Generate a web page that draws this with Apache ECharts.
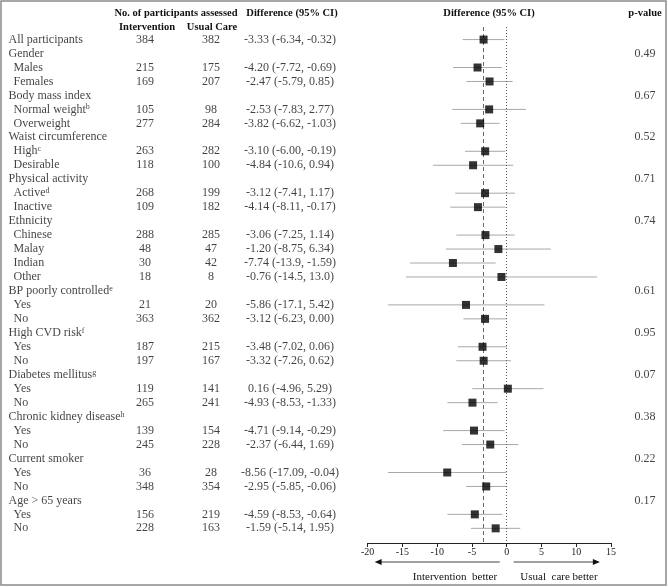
<!DOCTYPE html>
<html>
<head>
<meta charset="utf-8">
<script src="https://cdn.jsdelivr.net/npm/echarts@6/dist/echarts.min.js"></script>
<style>
html, body { margin: 0; padding: 0; background: #fff; }
#chart { width: 668px; height: 587px; }
</style>
</head>
<body>
<div id="chart"></div>
<script>
// rows of the table, top to bottom
var rowLabels = ['All participants', 'Gender', 'Males', 'Females', 'Body mass index', 'Normal weight', 'Overweight',
    'Waist circumference', 'High', 'Desirable', 'Physical activity', 'Active', 'Inactive', 'Ethnicity', 'Chinese',
    'Malay', 'Indian', 'Other', 'BP poorly controlled', 'Yes', 'No', 'High CVD risk', 'Yes', 'No', 'Diabetes mellitus',
    'Yes', 'No', 'Chronic kidney disease', 'Yes', 'No', 'Current smoker', 'Yes', 'No', 'Age > 65 years', 'Yes', 'No'];
var rowSup = ['', '', '', '', '', 'b', '', '', 'c', '', '', 'd', '', '', '', '', '', '', 'e', '', '', 'f', '', '', 'g',
    '', '', 'h', '', '', '', '', '', '', '', ''];
var rowIndent = [0, 0, 1, 1, 0, 1, 1, 0, 1, 1, 0, 1, 1, 0, 1, 1, 1, 1, 0, 1, 1, 0, 1, 1, 0, 1, 1, 0, 1, 1, 0, 1, 1, 0, 1, 1];

var nIntervention = [384, null, 215, 169, null, 105, 277, null, 263, 118, null, 268, 109, null, 288, 48, 30, 18, null,
    21, 363, null, 187, 197, null, 119, 265, null, 139, 245, null, 36, 348, null, 156, 228];
var nUsualCare = [382, null, 175, 207, null, 98, 284, null, 282, 100, null, 199, 182, null, 285, 47, 42, 8, null,
    20, 362, null, 215, 167, null, 141, 241, null, 154, 228, null, 28, 354, null, 219, 163];

var estimate = [-3.33, null, -4.20, -2.47, null, -2.53, -3.82, null, -3.10, -4.84, null, -3.12, -4.14, null, -3.06,
    -1.20, -7.74, -0.76, null, -5.86, -3.12, null, -3.48, -3.32, null, 0.16, -4.93, null, -4.71, -2.37, null, -8.56,
    -2.95, null, -4.59, -1.59];
var ciLower = [-6.34, null, -7.72, -5.79, null, -7.83, -6.62, null, -6.00, -10.6, null, -7.41, -8.11, null, -7.25,
    -8.75, -13.9, -14.5, null, -17.1, -6.23, null, -7.02, -7.26, null, -4.96, -8.53, null, -9.14, -6.44, null, -17.09,
    -5.85, null, -8.53, -5.14];
var ciUpper = [-0.32, null, -0.69, 0.85, null, 2.77, -1.03, null, -0.19, 0.94, null, 1.17, -0.17, null, 1.14,
    6.34, -1.59, 13.0, null, 5.42, 0.00, null, 0.06, 0.62, null, 5.29, -1.33, null, -0.29, 1.69, null, -0.04,
    -0.06, null, -0.64, 1.95];
var ciText = ['-3.33 (-6.34, -0.32)', '', '-4.20 (-7.72, -0.69)', '-2.47 (-5.79, 0.85)', '', '-2.53 (-7.83, 2.77)',
    '-3.82 (-6.62, -1.03)', '', '-3.10 (-6.00, -0.19)', '-4.84 (-10.6, 0.94)', '', '-3.12 (-7.41, 1.17)',
    '-4.14 (-8.11, -0.17)', '', '-3.06 (-7.25, 1.14)', '-1.20 (-8.75, 6.34)', '-7.74 (-13.9, -1.59)',
    '-0.76 (-14.5, 13.0)', '', '-5.86 (-17.1, 5.42)', '-3.12 (-6.23, 0.00)', '', '-3.48 (-7.02, 0.06)',
    '-3.32 (-7.26, 0.62)', '', '0.16 (-4.96, 5.29)', '-4.93 (-8.53, -1.33)', '', '-4.71 (-9.14, -0.29)',
    '-2.37 (-6.44, 1.69)', '', '-8.56 (-17.09, -0.04)', '-2.95 (-5.85, -0.06)', '', '-4.59 (-8.53, -0.64)',
    '-1.59 (-5.14, 1.95)'];
var pValue = ['', '0.49', '', '', '0.67', '', '', '0.52', '', '', '0.71', '', '', '0.74', '', '', '', '', '0.61', '', '',
    '0.95', '', '', '0.07', '', '', '0.38', '', '', '0.22', '', '', '0.17', '', ''];

var xTicks = [-20, -15, -10, -5, 0, 5, 10, 15];
var overall = estimate[0];

var FONT = '"Liberation Serif", "Times New Roman", serif';
var TXT = '#111';

// column positions of the text table (pixels, layout only)
var colLabel = 8, colIndent = 13, colInt = 145, colUsual = 211, colCI = 290, colP = 645;

function textSeries(name, points, position) {
    return {
        name: name,
        type: 'scatter',
        xAxisIndex: 0,
        yAxisIndex: 0,
        symbolSize: 1,
        itemStyle: { color: 'transparent' },
        silent: true,
        label: {
            show: true,
            position: position,
            distance: 0,
            fontFamily: FONT,
            fontSize: 12,
            color: TXT,
            formatter: function (p) { return p.data.text; },
            rich: {
                s: { fontFamily: FONT, fontSize: 8, color: TXT, verticalAlign: 'top', lineHeight: 8 }
            }
        },
        data: points
    };
}

var labelPts = [], intPts = [], usualPts = [], ciPts = [], pPts = [], ciLines = [], markers = [];
for (var i = 0; i < rowLabels.length; i++) {
    labelPts.push({
        value: [rowIndent[i] ? colIndent : colLabel, i],
        text: rowLabels[i] + (rowSup[i] ? '{s|' + rowSup[i] + '}' : '')
    });
    if (nIntervention[i] != null) intPts.push({ value: [colInt, i], text: String(nIntervention[i]) });
    if (nUsualCare[i] != null) usualPts.push({ value: [colUsual, i], text: String(nUsualCare[i]) });
    if (ciText[i]) ciPts.push({ value: [colCI, i], text: ciText[i] });
    if (pValue[i]) pPts.push({ value: [colP, i], text: pValue[i] });
    if (estimate[i] != null) {
        ciLines.push([ciLower[i], ciUpper[i], i]);
        markers.push([estimate[i], i]);
    }
}

var yRange = { min: -0.9, max: 36.05 };

var option = {
    animation: false,
    backgroundColor: '#fff',
    grid: [
        { left: 0, right: 0, top: 27, bottom: 44 },
        { left: 367.7, right: 57, top: 27, bottom: 44 }
    ],
    xAxis: [
        { gridIndex: 0, type: 'value', min: 0, max: 668, show: false },
        {
            gridIndex: 1, type: 'value', min: -20, max: 15, interval: 5, position: 'bottom',
            axisLine: { show: true, onZero: false, lineStyle: { color: '#222', width: 1 } },
            axisTick: { show: true, length: 4, lineStyle: { color: '#222' } },
            splitLine: { show: false },
            axisLabel: {
                fontFamily: FONT, fontSize: 10, color: '#222', margin: 4,
                formatter: function (v) { return xTicks.indexOf(v) >= 0 ? String(v) : ''; }
            }
        }
    ],
    yAxis: [
        { gridIndex: 0, type: 'value', inverse: true, min: yRange.min, max: yRange.max, show: false },
        { gridIndex: 1, type: 'value', inverse: true, min: yRange.min, max: yRange.max, show: false }
    ],
    series: [
        textSeries('labels', labelPts, 'right'),
        textSeries('intervention', intPts, 'inside'),
        textSeries('usual', usualPts, 'inside'),
        textSeries('ci', ciPts, 'inside'),
        textSeries('p', pPts, 'inside'),
        {
            name: 'ciLines',
            type: 'custom',
            xAxisIndex: 1,
            yAxisIndex: 1,
            silent: true,
            encode: { x: [0, 1], y: 2 },
            renderItem: function (params, api) {
                var a = api.coord([api.value(0), api.value(2)]);
                var b = api.coord([api.value(1), api.value(2)]);
                return {
                    type: 'line',
                    shape: { x1: a[0], y1: a[1], x2: b[0], y2: b[1] },
                    style: { stroke: '#a8a8a8', lineWidth: 1 }
                };
            },
            data: ciLines
        },
        {
            name: 'estimate',
            type: 'scatter',
            xAxisIndex: 1,
            yAxisIndex: 1,
            symbol: 'rect',
            symbolSize: 8,
            itemStyle: { color: '#000' },
            silent: true,
            z: 5,
            markLine: {
                silent: true,
                symbol: 'none',
                label: { show: false },
                data: [
                    { xAxis: overall, lineStyle: { type: [4, 3], color: '#666', width: 1 } },
                    { xAxis: 0, lineStyle: { type: [1, 2], color: '#555', width: 1 } }
                ]
            },
            data: markers
        }
    ]
};

var chart = echarts.init(document.getElementById('chart'), null, { renderer: 'canvas' });
chart.setOption(option);

// headers, arrows, frame
function px(v) { return chart.convertToPixel({ xAxisIndex: 1 }, v); }
var headStyle = { fontFamily: FONT, fontSize: 10.5, fontWeight: 'bold', fill: TXT, align: 'center', verticalAlign: 'middle' };
function head(text, x, y) {
    return { type: 'text', x: x, y: y, style: Object.assign({ text: text }, headStyle), silent: true };
}
var arrowY = 562;
var l0 = px(-1), l1 = px(-19), r0 = px(1), r1 = px(13.4);
var footStyle = { fontFamily: FONT, fontSize: 11, fill: TXT, align: 'center', verticalAlign: 'middle' };
chart.setOption({
    graphic: [
        { type: 'rect', shape: { x: 1, y: 1, width: 665, height: 584 }, style: { fill: 'none', stroke: '#8a8a8a', lineWidth: 1.5 }, silent: true },
        head('No. of participants assessed', 176, 13),
        head('Intervention', 147, 27),
        head('Usual Care', 212, 27),
        head('Difference (95% CI)', 292, 13),
        head('Difference (95% CI)', 489, 13),
        head('p-value', 645, 13),
        { type: 'line', shape: { x1: l0, y1: arrowY, x2: l1 + 5, y2: arrowY }, style: { stroke: '#444', lineWidth: 1 }, silent: true },
        { type: 'polygon', shape: { points: [[l1, arrowY], [l1 + 7, arrowY - 3], [l1 + 7, arrowY + 3]] }, style: { fill: '#111' }, silent: true },
        { type: 'line', shape: { x1: r0, y1: arrowY, x2: r1 - 5, y2: arrowY }, style: { stroke: '#444', lineWidth: 1 }, silent: true },
        { type: 'polygon', shape: { points: [[r1, arrowY], [r1 - 7, arrowY - 3], [r1 - 7, arrowY + 3]] }, style: { fill: '#111' }, silent: true },
        { type: 'text', x: 455, y: 577, style: Object.assign({ text: 'Intervention  better' }, footStyle), silent: true },
        { type: 'text', x: 559, y: 577, style: Object.assign({ text: 'Usual  care better' }, footStyle), silent: true }
    ]
});
</script>
</body>
</html>
